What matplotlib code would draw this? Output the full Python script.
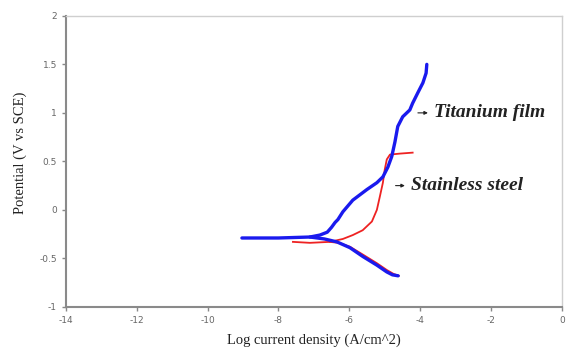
import numpy as np
import matplotlib.pyplot as plt

# Titanium film: anodic branch (from corrosion potential upward) and cathodic branch
ti_anodic_x = [-9.03, -8.0, -7.11, -6.83, -6.62, -6.50, -6.40, -6.32, -6.18, -5.90, -5.50, -5.22,
               -5.05, -4.91, -4.80, -4.71, -4.63, -4.49, -4.29, -4.21, -4.06, -3.92, -3.83, -3.81]
ti_anodic_y = [-0.29, -0.29, -0.28, -0.26, -0.23, -0.18, -0.13, -0.10, -0.02, 0.10, 0.21, 0.28,
               0.34, 0.44, 0.55, 0.70, 0.86, 0.96, 1.03, 1.10, 1.21, 1.31, 1.41, 1.50]
ti_cath_x = [-7.11, -6.70, -6.35, -5.98, -5.62, -5.22, -4.94, -4.78, -4.62]
ti_cath_y = [-0.28, -0.30, -0.33, -0.39, -0.48, -0.57, -0.64, -0.67, -0.68]

# Stainless steel
ss_anodic_x = [-7.59, -7.11, -6.55, -6.18, -5.90, -5.62, -5.36, -5.22, -5.14, -5.05, -5.00,
               -4.94, -4.85, -4.57, -4.21]
ss_anodic_y = [-0.33, -0.34, -0.33, -0.30, -0.26, -0.21, -0.12, 0.0, 0.13, 0.28, 0.41,
               0.52, 0.57, 0.58, 0.59]
ss_cath_x = [-6.55, -6.30, -5.98, -5.62, -5.22, -4.94, -4.75, -4.60]
ss_cath_y = [-0.33, -0.34, -0.38, -0.46, -0.55, -0.62, -0.66, -0.68]

xticks = [-14, -12, -10, -8, -6, -4, -2, 0]
yticks = [-1, -0.5, 0, 0.5, 1, 1.5, 2]

fig = plt.figure(figsize=(5.68, 3.61), dpi=100)
ax = fig.add_axes([0.116, 0.150, 0.873, 0.806])

ax.plot(ss_anodic_x, ss_anodic_y, color='#ee2222', lw=1.3)
ax.plot(ss_cath_x, ss_cath_y, color='#ee2222', lw=1.3)
ax.plot(ti_anodic_x, ti_anodic_y, color='#1a1aee', lw=2.4, solid_capstyle='round')
ax.plot(ti_cath_x, ti_cath_y, color='#1a1aee', lw=2.4, solid_capstyle='round')

ax.set_xlim(-14, 0)
ax.set_ylim(-1, 2)
ax.set_xticks(xticks)
ax.set_yticks(yticks)
ax.set_xticklabels([str(t) for t in xticks])
ax.set_yticklabels(['-1', '-0.5', '0', '0.5', '1', '1.5', '2'])
ax.tick_params(direction='out', length=3, width=1, colors='#888888', labelsize=6.5, labelcolor='#666666')

for side in ['left', 'bottom']:
    ax.spines[side].set_color('#8a8a8a')
    ax.spines[side].set_linewidth(1.5)
for side in ['top', 'right']:
    ax.spines[side].set_color('#cfcfcf')
    ax.spines[side].set_linewidth(1.0)

serif = 'Liberation Serif'
ax.set_xlabel('Log current density (A/cm^2)', family=serif, fontsize=10.5, color='#222222', labelpad=6)
ax.set_ylabel('Potential (V vs SCE)', family=serif, fontsize=10.5, color='#222222')
ax.yaxis.set_label_coords(-0.078, 0.53)

ax.annotate('', xy=(-3.70, 1.0), xytext=(-4.14, 1.0),
            arrowprops=dict(arrowstyle='-|>', color='#222222', lw=0.8, mutation_scale=5))
ax.text(-3.62, 1.0, 'Titanium film', family=serif, style='italic', weight='bold',
        fontsize=14, color='#222222', va='center', ha='left')
ax.annotate('', xy=(-4.35, 0.25), xytext=(-4.77, 0.25),
            arrowprops=dict(arrowstyle='-|>', color='#222222', lw=0.8, mutation_scale=5))
ax.text(-4.26, 0.25, 'Stainless steel', family=serif, style='italic', weight='bold',
        fontsize=14, color='#222222', va='center', ha='left')

fig.savefig('out.png', dpi=100)
